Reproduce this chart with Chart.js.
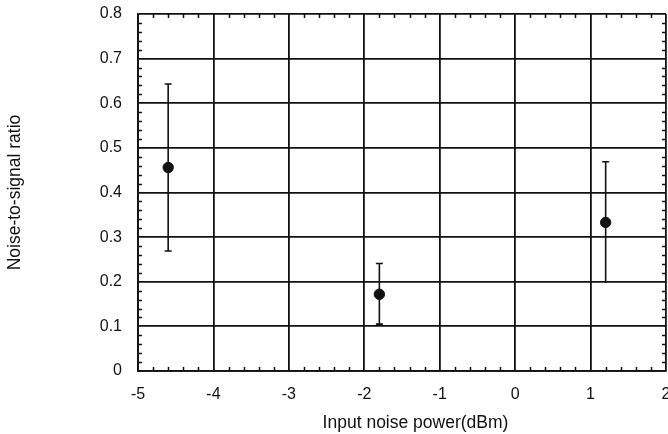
<!DOCTYPE html>
<html>
<head>
<meta charset="utf-8">
<script src="https://cdn.jsdelivr.net/npm/chart.js@4.4.0/dist/chart.umd.min.js"></script>
<style>
  html, body { margin: 0; padding: 0; background: #fff; }
  #wrap { width: 668px; height: 434px; }
</style>
</head>
<body>
<div id="wrap"><canvas id="chart" width="668" height="434"></canvas></div>
<script>
// valores
const inputPower = [-4.6, -1.8, 1.2];
const noiseRatio = [0.456, 0.172, 0.333];
const errHigh = [0.643, 0.241, 0.469];
const errLow = [0.269, 0.105, 0.197];
const lowCap = [true, true, false];   // o terceiro ponto não tem traço embaixo

const xTicks = [-5, -4, -3, -2, -1, 0, 1, 2];
const yTicks = [0, 0.1, 0.2, 0.3, 0.4, 0.5, 0.6, 0.7, 0.8];
const xTitle = 'Input noise power(dBm)';
const yTitle = 'Noise-to-signal ratio';

const ink = '#111';
const family = '"Liberation Sans", Arial, sans-serif';

// barras de erro
const errorBars = {
    id: 'errorBars',
    afterDatasetsDraw(chart) {
        const { ctx, scales: { x, y } } = chart;
        ctx.save();
        ctx.strokeStyle = ink;
        ctx.lineWidth = 1.6;
        inputPower.forEach((v, i) => {
            const px = x.getPixelForValue(v);
            const top = y.getPixelForValue(errHigh[i]);
            const bot = y.getPixelForValue(errLow[i]);
            ctx.beginPath();
            ctx.moveTo(px, top);
            ctx.lineTo(px, bot);
            ctx.moveTo(px - 3.5, top);
            ctx.lineTo(px + 3.5, top);
            if (lowCap[i]) {
                ctx.moveTo(px - 3.5, bot);
                ctx.lineTo(px + 3.5, bot);
            }
            ctx.stroke();
        });
        ctx.restore();
    }
};

// marcas menores para dentro, nos quatro lados + título do eixo x
const minorTicks = {
    id: 'minorTicks',
    afterDraw(chart) {
        const { ctx, chartArea: a, scales: { x, y } } = chart;
        ctx.save();
        ctx.strokeStyle = ink;
        ctx.lineWidth = 1.5;
        ctx.beginPath();
        for (let k = 0; k <= 35; k++) {
            if (k % 5 === 0) continue;
            const px = Math.round(x.getPixelForValue(-5 + k * 0.2)) + 0.5;
            ctx.moveTo(px, a.bottom); ctx.lineTo(px, a.bottom - 4);
            ctx.moveTo(px, a.top); ctx.lineTo(px, a.top + 4);
        }
        for (let k = 0; k <= 40; k++) {
            if (k % 5 === 0) continue;
            const py = Math.round(y.getPixelForValue(k * 0.02)) + 0.5;
            ctx.moveTo(a.left, py); ctx.lineTo(a.left + 4, py);
            ctx.moveTo(a.right, py); ctx.lineTo(a.right - 4, py);
        }
        ctx.stroke();

        // o título de baixo fica um pouco à direita do centro
        ctx.fillStyle = ink;
        ctx.font = '17.5px ' + family;
        ctx.textAlign = 'center';
        ctx.textBaseline = 'alphabetic';
        ctx.fillText(xTitle, (a.left + a.right) / 2 + 13.5, 428);
        ctx.restore();
    }
};

const tickFont = { family: family, size: 16 };

new Chart(document.getElementById('chart').getContext('2d'), {
    type: 'scatter',
    data: {
        datasets: [{
            data: inputPower.map((v, i) => ({ x: v, y: noiseRatio[i] })),
            backgroundColor: ink,
            borderColor: ink,
            pointRadius: 5.2,
            pointHoverRadius: 5.2
        }]
    },
    options: {
        responsive: false,
        animation: false,
        layout: { autoPadding: false, padding: { top: 14, right: 2, left: 0, bottom: 0 } },
        plugins: { legend: { display: false }, tooltip: { enabled: false } },
        scales: {
            x: {
                type: 'linear',
                min: -5,
                max: 2,
                afterBuildTicks: s => { s.ticks = xTicks.map(v => ({ value: v })); },
                afterFit: s => { s.height = 63; s.paddingLeft = 0; s.paddingRight = 0; },
                grid: { color: ink, lineWidth: 1.8, drawTicks: false },
                border: { color: ink, width: 1.8 },
                ticks: { color: ink, font: tickFont, padding: 14, maxRotation: 0 }
            },
            y: {
                min: 0,
                max: 0.8,
                afterBuildTicks: s => { s.ticks = yTicks.map(v => ({ value: v })); },
                afterFit: s => { s.width = 138; s.paddingTop = 0; s.paddingBottom = 0; },
                grid: { color: ink, lineWidth: 1.8, drawTicks: false },
                border: { color: ink, width: 1.8 },
                ticks: {
                    color: ink,
                    font: tickFont,
                    padding: 16,
                    callback: v => (v === 0 ? '0' : v.toFixed(1))
                },
                title: {
                    display: true,
                    text: yTitle,
                    color: ink,
                    font: { family: family, size: 17.5 },
                    padding: { top: 5, bottom: 0 }
                }
            }
        }
    },
    plugins: [errorBars, minorTicks]
});
</script>
</body>
</html>
